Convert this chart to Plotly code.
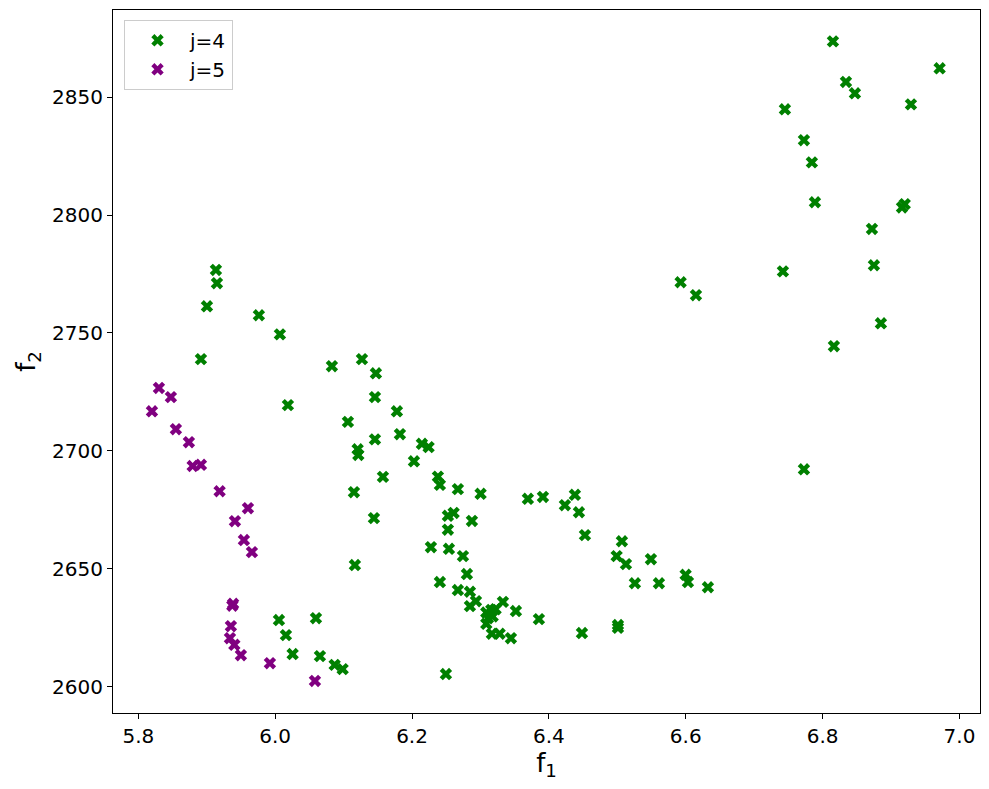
import plotly.graph_objects as go

# pontos da fronteira para j=4
j4_f1 = [5.9134, 5.9149, 5.9003, 5.9762, 6.0069, 5.8915, 6.0829, 6.1268, 6.0186, 6.1063,
         6.1205, 6.1215, 6.1151, 6.1165, 6.0055, 6.0596, 6.0157, 6.0255, 6.0654, 6.0869,
         6.0986, 6.1472, 6.1458, 6.1779, 6.1458, 6.1823, 6.2144, 6.2242, 6.2028, 6.1575,
         6.2378, 6.2407, 6.2670, 6.3002, 6.3693, 6.3913, 6.1443, 6.2524, 6.2608, 6.2875,
         6.2524, 6.4380, 6.4234, 6.4439, 6.4527, 6.2276, 6.2539, 6.2744, 6.2802, 6.2407,
         6.2670, 6.2846, 6.2934, 6.2846, 6.3328, 6.3518, 6.3085, 6.3158, 6.3221, 6.3109,
         6.3085, 6.3178, 6.3854, 6.3167, 6.3280, 6.3445, 6.4483, 6.2495, 6.5067, 6.4990,
         6.5126, 6.5491, 6.5257, 6.5608, 6.5998, 6.6032, 6.6324, 6.5009, 6.5009, 6.8151,
         6.9710, 6.8341, 6.8472, 6.9291, 6.7449, 6.7727, 6.7843, 6.7888, 6.9160, 6.9200,
         6.8721, 6.8750, 6.7420, 6.5925, 6.6149, 6.8852, 6.8165, 6.7727]
j4_f2 = [2776.7, 2771.1, 2761.3, 2757.5, 2749.4, 2738.9, 2735.9, 2738.9, 2719.4, 2712.3,
         2700.7, 2698.3, 2682.5, 2651.6, 2628.3, 2629.1, 2621.9, 2613.9, 2613.0, 2609.3,
         2607.5, 2732.9, 2722.8, 2716.8, 2704.9, 2707.1, 2703.0, 2701.6, 2695.6, 2689.0,
         2689.1, 2685.6, 2683.8, 2681.8, 2679.7, 2680.5, 2671.5, 2672.5, 2673.7, 2670.3,
         2666.6, 2681.4, 2677.0, 2674.0, 2664.3, 2659.2, 2658.5, 2655.4, 2647.8, 2644.4,
         2641.0, 2640.3, 2636.3, 2634.2, 2636.0, 2632.1, 2631.5, 2632.6, 2632.9, 2629.1,
         2626.7, 2629.8, 2628.7, 2622.5, 2622.5, 2620.6, 2622.8, 2605.4, 2661.7, 2655.4,
         2652.0, 2654.1, 2643.9, 2643.9, 2647.5, 2644.4, 2642.2, 2626.2, 2625.0, 2873.6,
         2862.2, 2856.4, 2851.6, 2846.9, 2844.8, 2831.7, 2822.3, 2805.4, 2803.2, 2804.6,
         2794.1, 2778.7, 2776.1, 2771.5, 2766.0, 2754.1, 2744.4, 2692.2]

# pontos da fronteira para j=5
j5_f1 = [5.8301, 5.8476, 5.8199, 5.8549, 5.8739, 5.8794, 5.8915, 5.9188, 5.9602, 5.9412,
         5.9543, 5.9660, 5.9374, 5.9385, 5.9353, 5.9339, 5.9403, 5.9499, 5.9923, 6.0581]
j5_f2 = [2726.7, 2722.8, 2716.8, 2709.2, 2703.7, 2693.6, 2694.1, 2682.9, 2675.7, 2670.2,
         2662.2, 2657.1, 2634.4, 2635.2, 2625.7, 2620.6, 2617.8, 2613.4, 2610.0, 2602.5]

fig = go.Figure()
fig.add_trace(go.Scatter(x=j4_f1, y=j4_f2, mode='markers', name='j=4',
                         marker=dict(symbol='x', size=11, color='#008000', line=dict(width=0))))
fig.add_trace(go.Scatter(x=j5_f1, y=j5_f2, mode='markers', name='j=5',
                         marker=dict(symbol='x', size=11, color='#800080', line=dict(width=0))))

eixo = dict(showgrid=False, zeroline=False, showline=True, linecolor='black', linewidth=1,
            mirror=True, ticks='outside', ticklen=5, tickcolor='black', automargin=False,
            tickfont=dict(size=20, color='black'))

fig.update_layout(
    width=989, height=789,
    margin=dict(l=113, r=9, t=10, b=76),
    plot_bgcolor='white', paper_bgcolor='white',
    font=dict(family='DejaVu Sans', color='black'),
    xaxis=dict(eixo, range=[5.763, 7.030], dtick=0.2, tickformat='.1f',
               title=dict(text='f<sub>1</sub>', font=dict(size=26), standoff=6)),
    yaxis=dict(eixo, range=[2588.9, 2886.9], dtick=50,
               title=dict(text='f<sub>2</sub>', font=dict(size=26), standoff=8)),
    legend=dict(x=0.0127, y=0.986, xanchor='left', yanchor='top',
                bordercolor='#cccccc', borderwidth=1, bgcolor='white',
                font=dict(size=20), itemwidth=55, tracegroupgap=0),
)

# tirar a margem do body para a figura ficar encostada ao canto
fig.write_html("out.html", config={'displayModeBar': False},
               post_script="document.body.style.margin='0';")
